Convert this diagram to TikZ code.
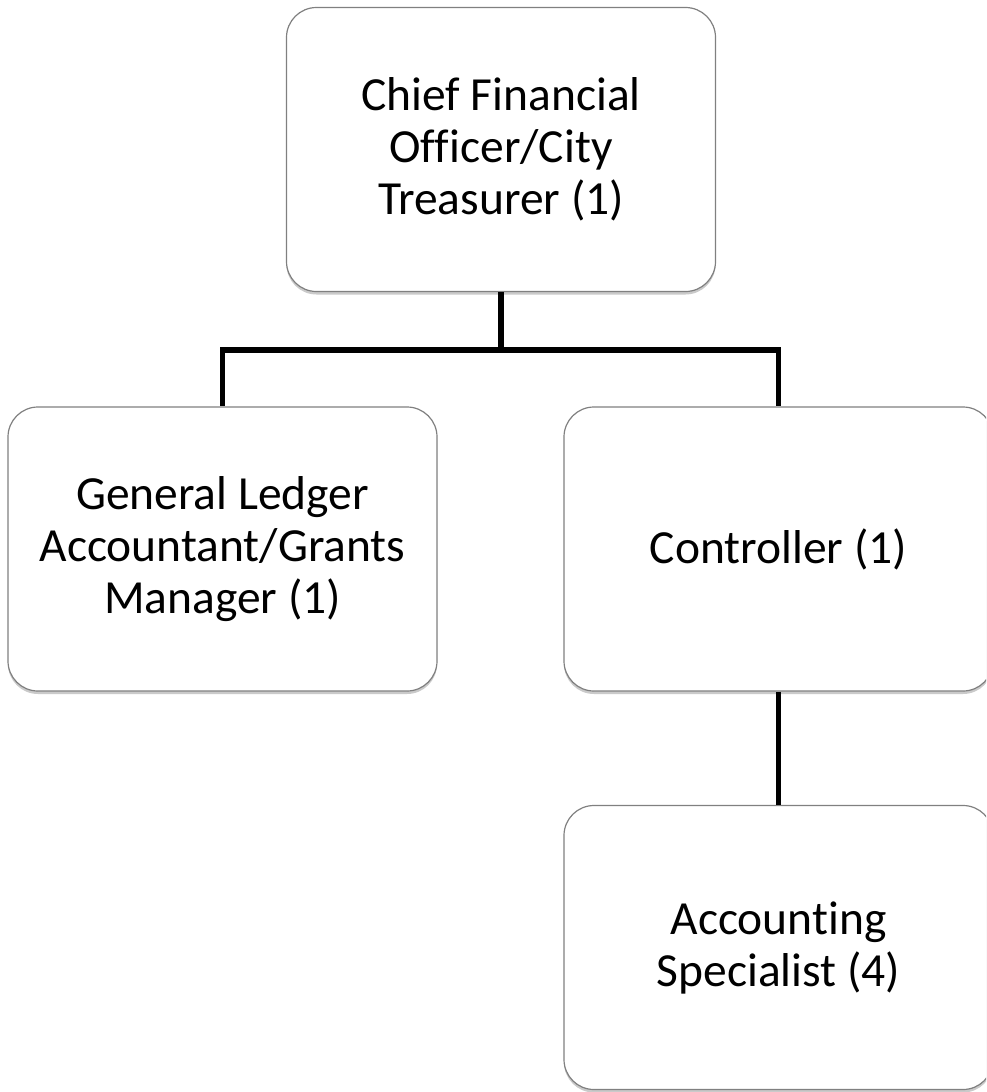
\documentclass[tikz,border=0pt]{standalone}
\usepackage{fontspec}
\setmainfont[Ligatures={NoCommon}]{Carlito}
\usetikzlibrary{shadows}
\definecolor{boxline}{HTML}{808080}
\tikzset{
  orgbox/.style={
    rectangle, rounded corners=30pt, draw=boxline, line width=1.2pt, fill=white,
    minimum width=429pt, minimum height=284pt, align=center,
    font=\fontsize{47.5pt}{52pt}\selectfont, inner sep=0pt,
    drop shadow={shadow xshift=0pt, shadow yshift=-3pt, opacity=0.35, fill=black!60}
  },
  link/.style={line width=5.5pt, black}
}
\begin{document}
\begin{tikzpicture}[x=1pt, y=-1pt]
  \useasboundingbox (0,0) rectangle (986,1092);
  \clip (0,0) rectangle (986,1092);

  % branch point of the top connector
  \coordinate (bus) at (501,350);
  \node[orgbox] (cfo)  at (501,149.5) {Chief Financial\\Officer/City\\Treasurer (1)};
  \node[orgbox] (gl)   at (222.5,549) {General Ledger\\Accountant/Grants\\Manager (1)};
  \node[orgbox] (ctrl) at (778.5,549) {Controller (1)};
  \node[orgbox] (acc)  at (778.5,947.5) {Accounting\\Specialist (4)};

  \draw[link] (cfo.south) -- (bus);
  \draw[link] (bus) -| (gl.north);
  \draw[link] (bus) -| (ctrl.north);
  \draw[link] (ctrl.south) -- (acc.north);
\end{tikzpicture}
\end{document}
